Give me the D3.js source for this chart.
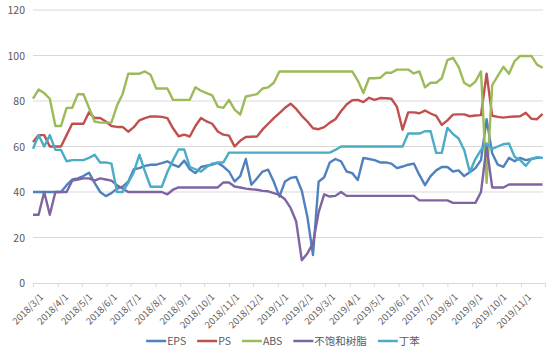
<!DOCTYPE html>
<html>
<head>
<meta charset="utf-8">
<script src="https://cdn.jsdelivr.net/npm/d3@7"></script>
<style>
  body { margin: 0; background: #fff; }
  text { font-family: "Noto Sans CJK SC", "Noto Sans", sans-serif; fill: #595959; }
</style>
</head>
<body>
<svg id="chart" width="550" height="354"></svg>
<script>
// weekly prices, first week 2018/3/1
const startDate = new Date(2018, 2, 1)

const eps = [40,40,40,40,40,40, 43,45.5,46,47,48.5,44, 40,38.2,39.5,41.5,42.4,44.5,
  50,50.5,51.5,52,52,52.7, 53.5,52,51,53.8,50,48.3, 51,51.6,52,52.8,51.2,49,
  44.6,47,54.5,43.2,46,49, 49.8,44.5,38,44.6,46.2,46.6, 40.5,29,12.3,44.5,46.5,53,
  54.5,53.5,49,48.3,45.3,55, 54.5,54,53,53,52.5,50.5, 51.2,52,52.5,47.5,43,47,
  49.5,51,51,49,49.5,47, 48.7,50.5,54,72,57,52, 51,55,53.5,55,54,54.5, 55,55]

const ps = [62,65,65,60,60,60, 65,70,70,70,75,72.5, 72.5,71,69,68.6,68.6,66.5,
  68.5,71.5,72.5,73.2,73.2,73, 72.5,68,64.5,65.2,64.4,69, 72.5,71,70,66.6,65.2,64.8,
  60,62.5,64.2,64.3,64.4,67.5, 70,72.5,74.7,77,78.8,76.5, 73.5,71,68,67.6,68.5,70.5,
  72,75.5,78.5,80.3,80.5,79.5, 81.4,80.5,81.3,81.2,81,77.4, 67.4,75,75,74.6,75.8,74.5,
  73.5,69.5,71.5,74,74.1,74.1, 73.3,73.6,73.8,92,73.5,73, 72.7,73,73.2,73.3,74.8,72.2, 72,74.3]

const abs = [81,85,83.5,81,69,69, 77,77,83,83,77,71, 70.5,70.5,70.5,78,83,92,
  92,92,93,91.5,85.5,85.5, 85.5,80.5,80.5,80.5,80.5,86, 84.5,83.5,82.5,77.5,77,80.5,
  76.2,74,82,82.5,83,85.5, 86,88,93,93,93,93, 93,93,93,93,93,93,
  93,93,93,93,89,83.5, 90,90,90.2,92.4,92.4,93.8, 93.8,93.8,92.1,93,86,88,
  88,90,98,99,95,88, 86.5,88.5,93,44,87,91, 95,92,97.5,99.8,99.8,99.8, 96,94.6]

const resin = [30,30,40,30,40,40, 40,45,45.5,46,46,45, 46,45.5,45,43,41.5,40,
  40,40,40,40,40,40, 39,41,42,42,42,42, 42,42,42,42,44.2,44.2,
  42.4,42,41.5,41.2,41,40.5, 40.3,39.5,38.7,36.8,33,27, 10,13,17.5,31,39,38,
  38.3,40,38.3,38.3,38.3,38.3, 38.3,38.3,38.3,38.3,38.3,38.3, 38.3,38.3,38.3,36.3,36.3,36.3,
  36.3,36.3,36.3,35.2,35.2,35.2, 35.2,35.2,40,60,42,42, 42,43.3,43.3,43.3,43.3,43.3, 43.3,43.3]

const sbr = [59,65,60,65,58.5,58.5, 53.5,54,54,54,55,56.4, 53,53,52.5,40,40,44,
  48.7,56.4,49,42.3,42.3,42.3, 48.8,54,58.7,58.7,51,50, 49,51,52.5,53,53,57.3,
  57.3,57.3,57.3,57.3,57.3,57.3, 57.3,57.3,57.3,57.3,57.3,57.3, 57.3,57.3,57.3,57.3,57.3,57.3,
  58.5,60,60,60,60,60, 60,60,60,60,60,60, 60,65.7,65.7,65.7,66.7,66.7,
  57.2,57.2,68.2,65.5,63.5,58.5, 48.8,54.5,58.5,61.3,59,60, 61,61.3,55.5,54,51.5,54.5, 55.3,55]

const seriesNames = ['EPS', 'PS', 'ABS', '不饱和树脂', '丁苯']
const seriesValues = [eps, ps, abs, resin, sbr]
const colors = ['#4f81bd', '#c0504d', '#9bbb59', '#8064a2', '#4bacc6']
const yTicks = [0, 20, 40, 60, 80, 100, 120]
const xTicks = d3.timeMonth.range(new Date(2018, 2, 1), new Date(2019, 10, 2))

const dates = eps.map((d, i) => d3.timeDay.offset(startDate, i * 7))

const margin = {left: 33, top: 10, right: 5, bottom: 71}
const width = 550 - margin.left - margin.right
const height = 354 - margin.top - margin.bottom

const svg = d3.select('#chart')
const chart = svg.append('g')
  .attr('transform', `translate(${margin.left}, ${margin.top})`)

const xScale = d3.scaleTime()
  .domain([new Date(2018, 2, 1), new Date(2019, 11, 1)])
  .range([0, width])

const yScale = d3.scaleLinear()
  .domain([0, 120])
  .range([height, 0])

// gridlines
chart.append('g')
  .selectAll('line')
  .data(yTicks.slice(1))
  .join('line')
  .attr('x1', 0)
  .attr('x2', width - 2)
  .attr('y1', d => yScale(d))
  .attr('y2', d => yScale(d))
  .attr('stroke', '#d9d9d9')

// y labels
chart.append('g')
  .selectAll('text')
  .data(yTicks)
  .join('text')
  .attr('x', -8)
  .attr('y', d => yScale(d) + 4)
  .attr('text-anchor', 'end')
  .style('font-size', '10.5px')
  .text(d => d)

// x axis
const fmt = d => `${d.getFullYear()}/${d.getMonth() + 1}/${d.getDate()}`
const xAxis = chart.append('g')
  .attr('transform', `translate(0, ${height})`)
  .call(d3.axisBottom(xScale)
    .tickValues(xTicks)
    .tickSize(4)
    .tickFormat(fmt))
xAxis.select('.domain').attr('stroke', '#d9d9d9')
xAxis.selectAll('.tick line').attr('stroke', '#d9d9d9')
xAxis.selectAll('.tick text')
  .attr('fill', '#595959')
  .style('font-size', '9.5px')
  .attr('text-anchor', 'end')
  .attr('transform', 'translate(4, 8) rotate(-45)')
  .attr('dy', '0.35em')
  .attr('y', 6)

// lines
seriesValues.forEach((vals, k) => {
  chart.append('path')
    .datum(vals)
    .attr('fill', 'none')
    .attr('stroke', colors[k])
    .attr('stroke-width', 2.4)
    .attr('stroke-linejoin', 'round')
    .attr('d', d3.line()
      .x((d, i) => xScale(dates[i]))
      .y(d => yScale(d)))
})

// legend
const legend = svg.append('g')
let lx = 0
seriesNames.forEach((name, k) => {
  const item = legend.append('g').attr('transform', `translate(${lx}, 0)`)
  item.append('line')
    .attr('x1', 0).attr('x2', 20)
    .attr('stroke', colors[k])
    .attr('stroke-width', 2.5)
  const t = item.append('text')
    .attr('x', 21)
    .attr('y', 4)
    .style('font-size', '10.5px')
    .text(name)
  lx += 21 + t.node().getComputedTextLength() + 11
})
legend.attr('transform', `translate(${(550 - (lx - 11)) / 2 + 8}, 341)`)
</script>
</body>
</html>
